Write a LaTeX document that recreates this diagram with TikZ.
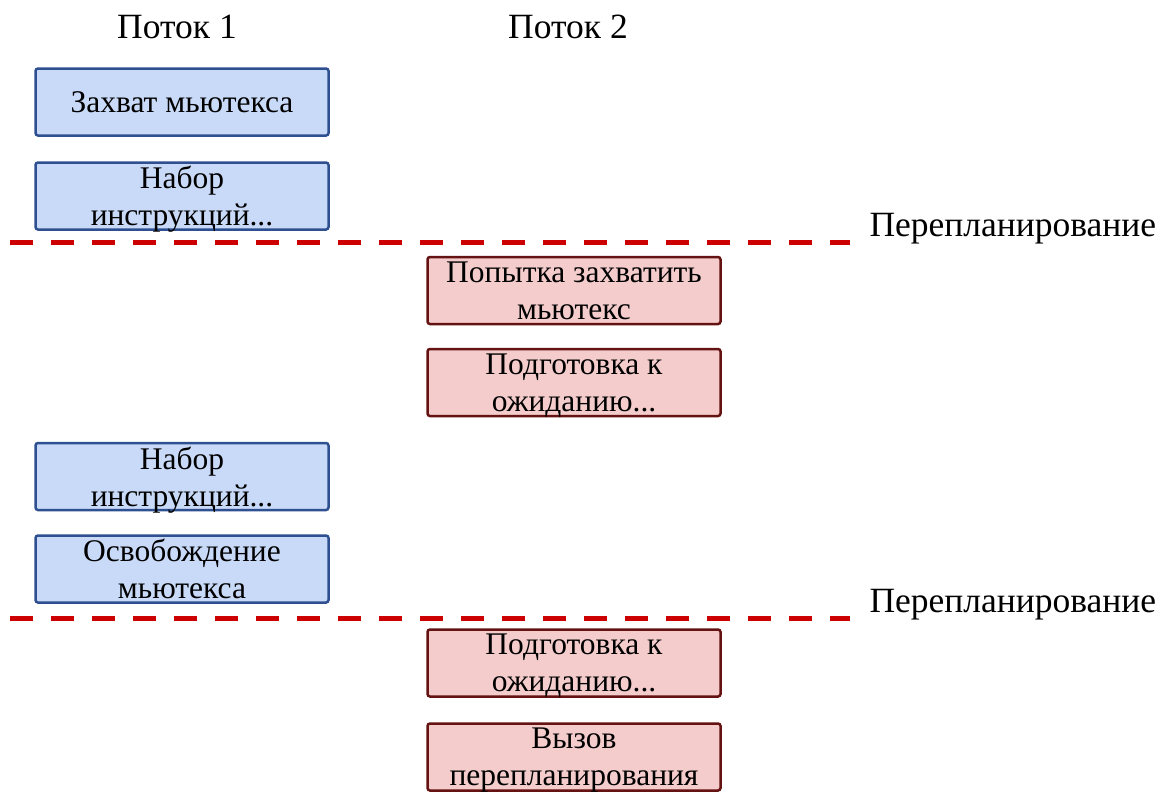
\documentclass[tikz,border=0pt]{standalone}
\usepackage{fontspec}
\setmainfont{Liberation Serif}
\definecolor{bluefill}{HTML}{C9DAF8}
\definecolor{blueedge}{HTML}{2E5090}
\definecolor{redfill}{HTML}{F4CCCC}
\definecolor{rededge}{HTML}{641212}
\definecolor{dashred}{HTML}{CC0000}
\begin{document}
\begin{tikzpicture}[x=1pt,y=-1pt,
  box/.style={draw, line width=2.5pt, rounded corners=2.5pt,
    minimum width=293pt, minimum height=67pt, inner sep=0pt,
    align=center, text depth=0pt, font=\fontsize{31.5}{37}\selectfont},
  bluebox/.style={box, fill=bluefill, draw=blueedge},
  redbox/.style={box, fill=redfill, draw=rededge},
  header/.style={font=\fontsize{35.5}{40}\selectfont, anchor=base},
  reschedline/.style={draw=dashred, line width=5pt, dash pattern=on 23pt off 18pt},
  reschedlabel/.style={font=\fontsize{35.5}{40}\selectfont, anchor=base west}]
\useasboundingbox (0,0) rectangle (1168,793);

% column headers
\node[header] (h1) at (177,38) {Поток 1};
\node[header] (h2) at (568,38) {Поток 2};

% thread 1
\node[bluebox] (t1a) at (182,102) {Захват мьютекса};
\node[bluebox] (t1b) at (182,196) {Набор\\инструкций...};
\node[bluebox] (t1c) at (182,476.5) {Набор\\инструкций...};
\node[bluebox] (t1d) at (182,569) {Освобождение\\мьютекса};

% thread 2
\node[redbox] (t2a) at (574,290.5) {Попытка захватить\\мьютекс};
\node[redbox] (t2b) at (574,382.5) {Подготовка к\\ожиданию...};
\node[redbox] (t2c) at (574,663) {Подготовка к\\ожиданию...};
\node[redbox] (t2d) at (574,757) {Вызов\\перепланирования};

% rescheduling points
\coordinate (r1a) at (10,242);
\coordinate (r1b) at (850,242);
\coordinate (r2a) at (10,618);
\coordinate (r2b) at (850,618);
\draw[reschedline] (r1a) -- (r1b);
\draw[reschedline] (r2a) -- (r2b);
\node[reschedlabel] (l1) at (866,236) {Перепланирование};
\node[reschedlabel] (l2) at (866,612) {Перепланирование};
\end{tikzpicture}
\end{document}
